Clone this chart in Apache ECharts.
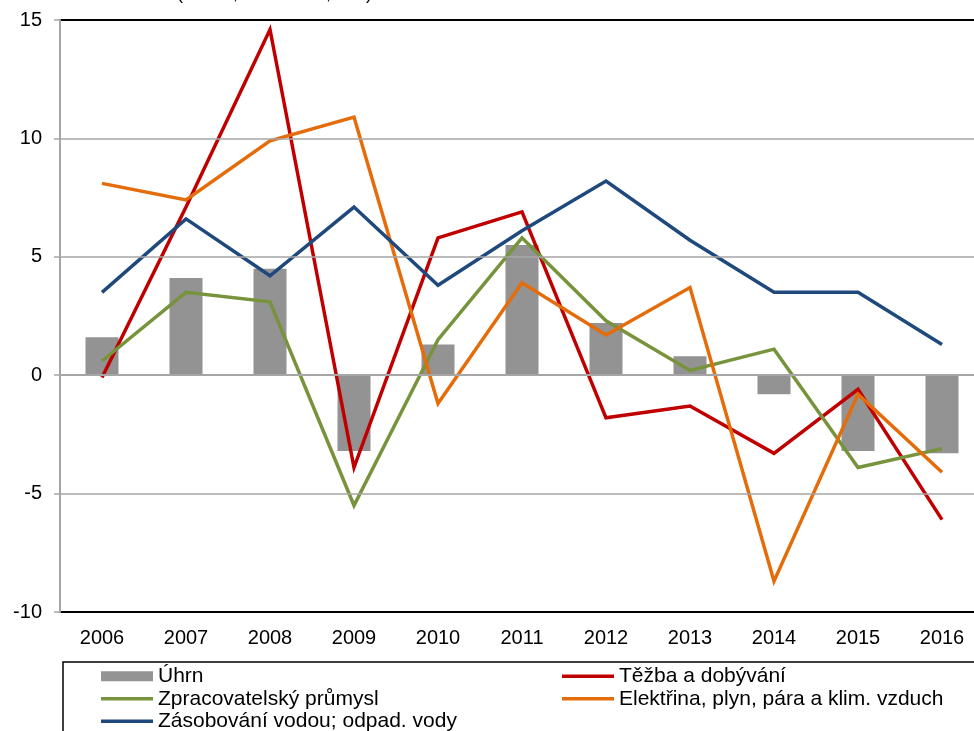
<!DOCTYPE html>
<html>
<head>
<meta charset="utf-8">
<script src="https://cdn.jsdelivr.net/npm/echarts@6/dist/echarts.min.js"></script>
<style>
  html, body { margin: 0; padding: 0; background: #fff; overflow: hidden; }
  /* chart runs past the right and bottom edge of the window, as in the original */
  #main { width: 984px; height: 800px; }
</style>
</head>
<body>
<div id="main"></div>
<script>
// data
const years = ['2006', '2007', '2008', '2009', '2010', '2011', '2012', '2013', '2014', '2015', '2016']
const uhrn = [1.6, 4.1, 4.5, -3.2, 1.3, 5.5, 2.2, 0.8, -0.8, -3.2, -3.3]
const tezba = [-0.1, 7.1, 14.6, -3.9, 5.8, 6.9, -1.8, -1.3, -3.3, -0.6, -6.1]
const zprac = [0.6, 3.5, 3.1, -5.5, 1.5, 5.8, 2.3, 0.2, 1.1, -3.9, -3.1]
const elekt = [8.1, 7.4, 9.9, 10.9, -1.2, 3.9, 1.7, 3.7, -8.7, -0.8, -4.1]
const voda = [3.5, 6.6, 4.2, 7.1, 3.8, 6.1, 8.2, 5.7, 3.5, 3.5, 1.3]

const FONT = 'Liberation Sans'
const LINE_ICON = 'path://M0,0 H52 V3.5 H0 Z'
const GRID_GRAY = '#a6a6a6'

const line = (name, data, color) => ({
    name: name,
    type: 'line',
    data: data,
    symbol: 'none',
    lineStyle: { color: color, width: 3.5, join: 'miter' },
    itemStyle: { color: color }
})

const legendText = { fontSize: 21, color: '#000', lineHeight: 22.5 }

var myChart = echarts.init(document.getElementById('main'));

var option = {
    animation: false,
    backgroundColor: '#fff',
    textStyle: { fontFamily: FONT },
    grid: {
        left: 60,
        top: 20,
        right: 0,
        bottom: 188,
        show: true,
        borderColor: '#000',
        borderWidth: 2,
        backgroundColor: '#fff'
    },
    graphic: [
        {
            type: 'text',
            left: 177,
            top: -15,
            style: { text: '(reálně, meziročně, v %)', font: '18px "Liberation Sans"', fill: '#000' }
        },
        {
            type: 'rect',
            shape: { x: 63, y: 662, width: 1000, height: 200 },
            style: { fill: 'none', stroke: '#000', lineWidth: 1.5 },
            z: -1
        }
    ],
    legend: [
        {
            orient: 'vertical',
            left: 101,
            top: 665,
            padding: 0,
            itemWidth: 52,
            itemHeight: 10,
            itemGap: 0,
            textStyle: legendText,
            data: [
                { name: 'Úhrn', icon: 'rect' },
                { name: 'Zpracovatelský průmysl', icon: LINE_ICON },
                { name: 'Zásobování vodou; odpad. vody', icon: LINE_ICON }
            ]
        },
        {
            orient: 'vertical',
            left: 562,
            top: 665,
            padding: 0,
            itemWidth: 52,
            itemHeight: 10,
            itemGap: 0,
            textStyle: legendText,
            data: [
                { name: 'Těžba a dobývání', icon: LINE_ICON },
                { name: 'Elektřina, plyn, pára a klim. vzduch', icon: LINE_ICON }
            ]
        }
    ],
    xAxis: [
        {
            // line at zero with ticks between categories
            type: 'category',
            data: years,
            position: 'top',
            boundaryGap: true,
            axisLine: { onZero: true, lineStyle: { color: GRID_GRAY, width: 2 } },
            axisTick: { inside: true, length: 6, lineStyle: { color: GRID_GRAY, width: 1.5 } },
            axisLabel: { show: false },
            z: 5
        },
        {
            type: 'category',
            data: years,
            position: 'bottom',
            axisLine: { show: false },
            axisTick: { show: false },
            axisLabel: { fontSize: 20, color: '#000', margin: 16, fontFamily: FONT }
        }
    ],
    yAxis: {
        type: 'value',
        min: -10,
        max: 15,
        interval: 5,
        axisLine: { show: true, lineStyle: { color: GRID_GRAY, width: 2 } },
        axisTick: { show: true, length: 6, lineStyle: { color: GRID_GRAY, width: 1.5 } },
        axisLabel: { fontSize: 20, color: '#000', margin: 18, fontFamily: FONT },
        // first and last lines (-10, 15) are the black frame
        splitLine: { lineStyle: { color: ['#000', GRID_GRAY, GRID_GRAY, GRID_GRAY, GRID_GRAY, '#000'], width: 1.5 } },
        z: 4
    },
    series: [
        {
            name: 'Úhrn',
            type: 'bar',
            data: uhrn,
            barWidth: 33,
            itemStyle: { color: '#939393' }
        },
        line('Těžba a dobývání', tezba, '#c00000'),
        line('Zpracovatelský průmysl', zprac, '#77933c'),
        line('Elektřina, plyn, pára a klim. vzduch', elekt, '#e46c0a'),
        line('Zásobování vodou; odpad. vody', voda, '#1f497d')
    ]
};

myChart.setOption(option);
</script>
</body>
</html>
